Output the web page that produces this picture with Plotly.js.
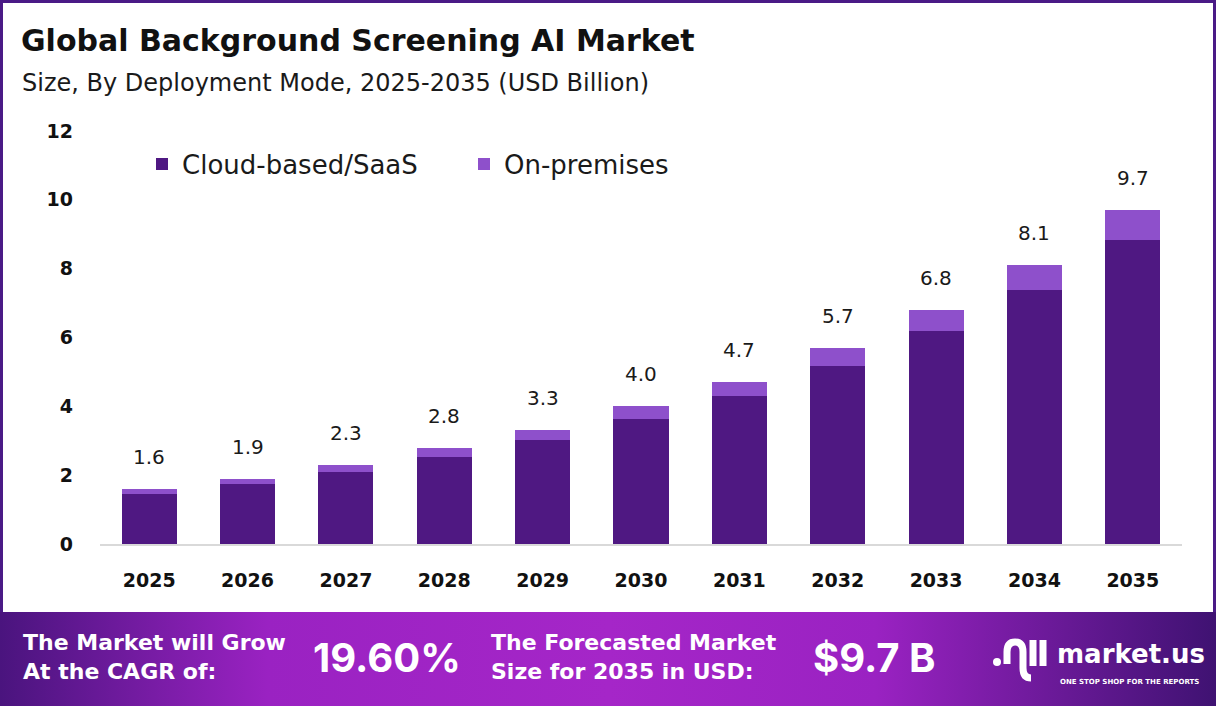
<!DOCTYPE html>
<html>
<head>
<meta charset="utf-8">
<script src="https://cdn.plot.ly/plotly-3.0.1.min.js"></script>
<style>
  html,body{margin:0;padding:0;background:#fff;}
  #chart{width:1216px;height:706px;}
</style>
</head>
<body>
<div id="chart"></div>
<script>
// ---- data ----
const years = ["2025","2026","2027","2028","2029","2030","2031","2032","2033","2034","2035"];
const cloudSaaS = [1.46, 1.74, 2.10, 2.53, 3.02, 3.62, 4.29, 5.18, 6.19, 7.38, 8.84];
const onPremises = [0.14, 0.16, 0.20, 0.27, 0.28, 0.38, 0.41, 0.52, 0.61, 0.72, 0.86];
const totalLabels = ["1.6","1.9","2.3","2.8","3.3","4.0","4.7","5.7","6.8","8.1","9.7"];
const seriesNames = ["Cloud-based/SaaS", "On-premises"];
const yTicks = [0, 2, 4, 6, 8, 10, 12];
const cagrText = "19.60%";
const forecastText = "$9.7 B";

// ---- geometry helpers (pixel -> paper) ----
const W = 1216, H = 706;
const mL = 100, mR = 34, mT = 131, mB = 162;
const pw = W - mL - mR, ph = H - mT - mB;
const px = x => (x - mL) / pw;
const py = y => (H - mB - y) / ph;

const FONT = "'DejaVu Sans', sans-serif";
const NUMFONT = "Inter, 'DejaVu Sans', sans-serif";
const DARK = "#4f1882";
const LIGHT = "#8e50cb";

const traces = [
  {type: "bar", name: seriesNames[0], x: years, y: cloudSaaS,
   marker: {color: DARK}, hoverinfo: "skip"},
  {type: "bar", name: seriesNames[1], x: years, y: onPremises,
   marker: {color: LIGHT}, hoverinfo: "skip"}
];

const annotations = years.map((yr, i) => ({
  x: i, y: cloudSaaS[i] + onPremises[i], xref: "x", yref: "y",
  text: totalLabels[i], showarrow: false, yanchor: "bottom", yshift: 18,
  font: {family: FONT, size: 20, color: "#1a1a1a"}
}));

annotations.push(
  {xref: "paper", yref: "paper", x: px(20), y: py(83), xanchor: "left", yanchor: "middle",
   text: "Size, By Deployment Mode, 2025-2035 (USD Billion)", showarrow: false,
   font: {family: FONT, size: 24, color: "#1a1a1a"}},
  {xref: "paper", yref: "paper", x: px(21), y: py(657), xanchor: "left", yanchor: "middle",
   text: "<b>The Market will Grow<br>At the CAGR of:</b>", align: "left", showarrow: false,
   font: {family: FONT, size: 22, color: "#ffffff"}},
  {xref: "paper", yref: "paper", x: px(387), y: py(657), xanchor: "center", yanchor: "middle",
   text: "<b>" + cagrText + "</b>", showarrow: false,
   font: {family: NUMFONT, size: 40, color: "#ffffff"}},
  {xref: "paper", yref: "paper", x: px(489), y: py(657), xanchor: "left", yanchor: "middle",
   text: "<b>The Forecasted Market<br>Size for 2035 in USD:</b>", align: "left", showarrow: false,
   font: {family: FONT, size: 22, color: "#ffffff"}},
  {xref: "paper", yref: "paper", x: px(874), y: py(657), xanchor: "center", yanchor: "middle",
   text: "<b>" + forecastText + "</b>", showarrow: false,
   font: {family: NUMFONT, size: 40, color: "#ffffff"}},
  {xref: "paper", yref: "paper", x: px(1055), y: py(654), xanchor: "left", yanchor: "middle",
   text: "<b>market.us</b>", showarrow: false,
   font: {family: FONT, size: 26, color: "#ffffff"}},
  {xref: "paper", yref: "paper", x: px(1058), y: py(682), xanchor: "left", yanchor: "middle",
   text: "<b>ONE STOP SHOP FOR THE REPORTS</b>", showarrow: false,
   font: {family: FONT, size: 7, color: "#ffffff"}}
);

const bannerSVG = '<svg xmlns="http://www.w3.org/2000/svg" width="1216" height="94" preserveAspectRatio="none">' +
  '<defs><linearGradient id="g" x1="0" y1="0" x2="1" y2="0">' +
  '<stop offset="0" stop-color="#4a147e"/>' +
  '<stop offset="0.22" stop-color="#9a22c2"/>' +
  '<stop offset="0.5" stop-color="#a526c8"/>' +
  '<stop offset="0.72" stop-color="#9a22c2"/>' +
  '<stop offset="1" stop-color="#3f1272"/>' +
  '</linearGradient></defs><rect width="1216" height="94" fill="url(#g)"/></svg>';
const bannerURI = "data:image/svg+xml;charset=utf-8," + encodeURIComponent(bannerSVG);

const frame = "#4a1a86";
const shapes = [
  // frame
  {type: "rect", xref: "paper", yref: "paper", x0: px(0), x1: px(3), y0: py(612), y1: py(0),
   fillcolor: frame, line: {width: 0}, layer: "above"},
  {type: "rect", xref: "paper", yref: "paper", x0: px(0), x1: px(1216), y0: py(3), y1: py(0),
   fillcolor: frame, line: {width: 0}, layer: "above"},
  {type: "rect", xref: "paper", yref: "paper", x0: px(1213), x1: px(1216), y0: py(612), y1: py(0),
   fillcolor: frame, line: {width: 0}, layer: "above"},
  // logo icon
  {type: "circle", xref: "paper", yref: "paper", x0: px(993), x1: px(1001), y0: py(666), y1: py(658),
   fillcolor: "#ffffff", line: {width: 0}},
  {type: "path", xref: "paper", yref: "paper",
   path: "M " + px(1007) + "," + py(664) + " L " + px(1007) + "," + py(652) +
         " Q " + px(1007) + "," + py(642) + " " + px(1015) + "," + py(642) +
         " Q " + px(1023) + "," + py(642) + " " + px(1023) + "," + py(652) +
         " L " + px(1023) + "," + py(668) +
         " Q " + px(1023) + "," + py(678) + " " + px(1031) + "," + py(678),
   line: {color: "#ffffff", width: 7}},
  {type: "line", xref: "paper", yref: "paper", x0: px(1033), x1: px(1033), y0: py(640), y1: py(666),
   line: {color: "#ffffff", width: 7}},
  {type: "line", xref: "paper", yref: "paper", x0: px(1043), x1: px(1043), y0: py(640), y1: py(666),
   line: {color: "#ffffff", width: 7}}
];

const layout = {
  width: W, height: H,
  margin: {l: mL, r: mR, t: mT, b: mB, pad: 0},
  paper_bgcolor: "#ffffff", plot_bgcolor: "#ffffff",
  barmode: "stack", bargap: 0.44,
  showlegend: true,
  title: {text: "<b>Global Background Screening AI Market</b>", x: 21 / W, xanchor: "left",
          y: 1 - 40 / H, yanchor: "middle", xref: "container", yref: "container",
          font: {family: FONT, size: 30, color: "#111111"}},
  legend: {orientation: "h", x: px(142), y: py(164), xanchor: "left", yanchor: "middle",
           font: {family: FONT, size: 26, color: "#1a1a1a"}, traceorder: "normal",
           entrywidth: 277, bgcolor: "rgba(0,0,0,0)"},
  xaxis: {type: "category", range: [-0.5, 10.5], showgrid: false, zeroline: false,
          showline: true, linecolor: "#d9d9d9", linewidth: 2, ticks: "",
          ticklabelstandoff: 18,
          tickfont: {family: FONT, size: 19, color: "#111111", weight: "bold"}},
  yaxis: {range: [0, 12], tickvals: yTicks, ticktext: yTicks.map(String), showgrid: false,
          zeroline: false, showline: false, ticks: "", ticklabelstandoff: 26,
          tickfont: {family: FONT, size: 19, color: "#111111", weight: "bold"}},
  images: [{source: bannerURI, xref: "paper", yref: "paper", x: px(0), y: py(612),
            sizex: W / pw, sizey: 94 / ph, sizing: "stretch", xanchor: "left", yanchor: "top",
            layer: "below"}],
  annotations: annotations,
  shapes: shapes
};

Plotly.newPlot("chart", traces, layout, {displayModeBar: false, staticPlot: true});
</script>
</body>
</html>
